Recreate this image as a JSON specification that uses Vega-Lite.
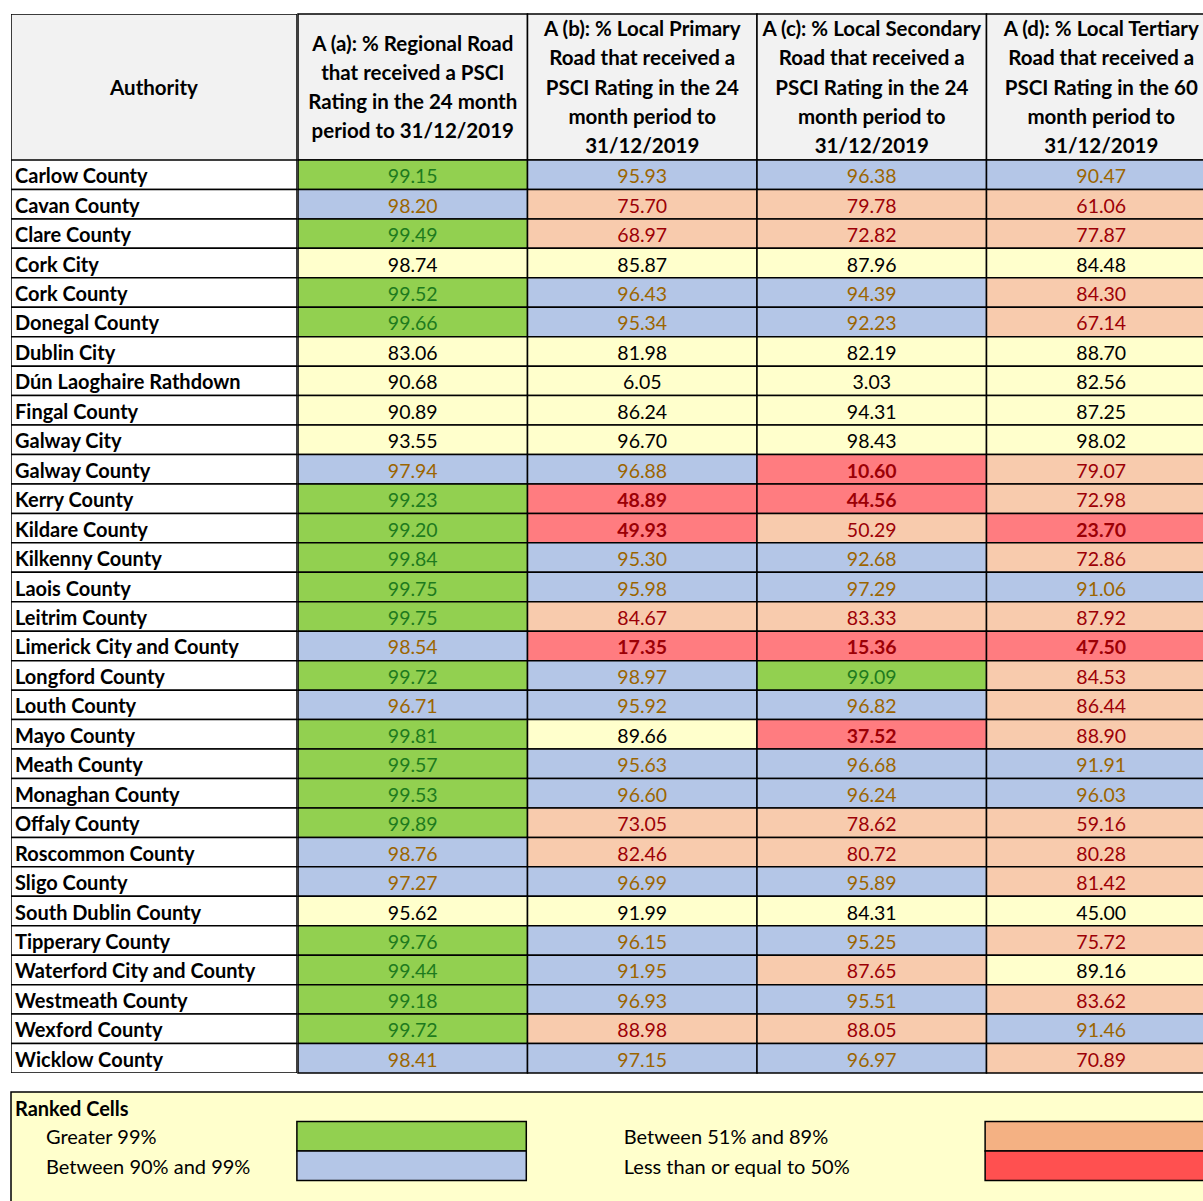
{
  "$schema": "https://vega.github.io/schema/vega-lite/v6.json",
  "padding": {"left": 10, "top": 13, "right": 0, "bottom": 0},
  "background": "white",
  "config": {"view": {"stroke": null}, "font": "Lato"},
  "datasets": {
    "rows": [
      {"Authority": "Carlow County", "a": 99.15, "b": 95.93, "c": 96.38, "d": 90.47, "ranked": true},
      {"Authority": "Cavan County", "a": 98.20, "b": 75.70, "c": 79.78, "d": 61.06, "ranked": true},
      {"Authority": "Clare County", "a": 99.49, "b": 68.97, "c": 72.82, "d": 77.87, "ranked": true},
      {"Authority": "Cork City", "a": 98.74, "b": 85.87, "c": 87.96, "d": 84.48, "ranked": false},
      {"Authority": "Cork County", "a": 99.52, "b": 96.43, "c": 94.39, "d": 84.30, "ranked": true},
      {"Authority": "Donegal County", "a": 99.66, "b": 95.34, "c": 92.23, "d": 67.14, "ranked": true},
      {"Authority": "Dublin City", "a": 83.06, "b": 81.98, "c": 82.19, "d": 88.70, "ranked": false},
      {"Authority": "Dún Laoghaire Rathdown", "a": 90.68, "b": 6.05, "c": 3.03, "d": 82.56, "ranked": false},
      {"Authority": "Fingal County", "a": 90.89, "b": 86.24, "c": 94.31, "d": 87.25, "ranked": false},
      {"Authority": "Galway City", "a": 93.55, "b": 96.70, "c": 98.43, "d": 98.02, "ranked": false},
      {"Authority": "Galway County", "a": 97.94, "b": 96.88, "c": 10.60, "d": 79.07, "ranked": true},
      {"Authority": "Kerry County", "a": 99.23, "b": 48.89, "c": 44.56, "d": 72.98, "ranked": true},
      {"Authority": "Kildare County", "a": 99.20, "b": 49.93, "c": 50.29, "d": 23.70, "ranked": true},
      {"Authority": "Kilkenny County", "a": 99.84, "b": 95.30, "c": 92.68, "d": 72.86, "ranked": true},
      {"Authority": "Laois County", "a": 99.75, "b": 95.98, "c": 97.29, "d": 91.06, "ranked": true},
      {"Authority": "Leitrim County", "a": 99.75, "b": 84.67, "c": 83.33, "d": 87.92, "ranked": true},
      {"Authority": "Limerick City and County", "a": 98.54, "b": 17.35, "c": 15.36, "d": 47.50, "ranked": true},
      {"Authority": "Longford County", "a": 99.72, "b": 98.97, "c": 99.09, "d": 84.53, "ranked": true},
      {"Authority": "Louth County", "a": 96.71, "b": 95.92, "c": 96.82, "d": 86.44, "ranked": true},
      {"Authority": "Mayo County", "a": 99.81, "b": 89.66, "c": 37.52, "d": 88.90, "ranked": true},
      {"Authority": "Meath County", "a": 99.57, "b": 95.63, "c": 96.68, "d": 91.91, "ranked": true},
      {"Authority": "Monaghan County", "a": 99.53, "b": 96.60, "c": 96.24, "d": 96.03, "ranked": true},
      {"Authority": "Offaly County", "a": 99.89, "b": 73.05, "c": 78.62, "d": 59.16, "ranked": true},
      {"Authority": "Roscommon County", "a": 98.76, "b": 82.46, "c": 80.72, "d": 80.28, "ranked": true},
      {"Authority": "Sligo County", "a": 97.27, "b": 96.99, "c": 95.89, "d": 81.42, "ranked": true},
      {"Authority": "South Dublin County", "a": 95.62, "b": 91.99, "c": 84.31, "d": 45.00, "ranked": false},
      {"Authority": "Tipperary County", "a": 99.76, "b": 96.15, "c": 95.25, "d": 75.72, "ranked": true},
      {"Authority": "Waterford City and County", "a": 99.44, "b": 91.95, "c": 87.65, "d": 89.16, "ranked": true},
      {"Authority": "Westmeath County", "a": 99.18, "b": 96.93, "c": 95.51, "d": 83.62, "ranked": true},
      {"Authority": "Wexford County", "a": 99.72, "b": 88.98, "c": 88.05, "d": 91.46, "ranked": true},
      {"Authority": "Wicklow County", "a": 98.41, "b": 97.15, "c": 96.97, "d": 70.89, "ranked": true}
    ]
  },
  "resolve": {"scale": {"fill": "independent", "color": "independent"}},
  "spacing": 17,
  "vconcat": [
    {
      "spacing": 0,
      "resolve": {"scale": {"fill": "independent", "color": "independent"}},
      "hconcat": [
        {
          "bounds": "flush",
          "spacing": 0,
          "vconcat": [
            {
              "width": 286,
              "height": 146,
              "data": {"values": [{"col": "Authority", "title": "Authority"}]},
              "layer": [
                {
                  "mark": {"type": "rect", "fill": "#F2F2F2", "stroke": "black", "strokeWidth": 1.5, "clip": true},
                  "encoding": {"x": {"field": "col", "type": "nominal", "axis": null, "scale": {"paddingInner": 0, "paddingOuter": 0}}}
                },
                {
                  "mark": {"type": "text", "baseline": "middle", "dy": 2, "font": "Lato", "fontSize": 20.5, "fontWeight": "bold", "color": "black"},
                  "encoding": {
                    "x": {"field": "col", "type": "nominal", "axis": null},
                    "text": {"field": "title"}
                  }
                }
              ]
            },
            {
              "width": 286,
              "height": 913,
              "data": {"name": "rows"},
              "layer": [
                {
                  "mark": {"type": "rect", "fill": "white", "stroke": "black", "strokeWidth": 1.5, "clip": true},
                  "encoding": {
                    "x": {"datum": "Authority", "type": "nominal", "axis": null, "scale": {"paddingInner": 0, "paddingOuter": 0}},
                    "y": {"field": "Authority", "type": "nominal", "sort": null, "axis": null, "scale": {"paddingInner": 0, "paddingOuter": 0}}
                  }
                },
                {
                  "mark": {"type": "text", "align": "left", "baseline": "middle", "dx": 4, "dy": 2.5, "font": "Lato", "fontSize": 20, "fontWeight": "bold", "color": "black"},
                  "encoding": {
                    "x": {"datum": "Authority", "type": "nominal", "axis": null, "bandPosition": 0},
                    "y": {"field": "Authority", "type": "nominal", "sort": null, "axis": null},
                    "text": {"field": "Authority"}
                  }
                }
              ]
            }
          ]
        },
        {
          "bounds": "flush",
          "spacing": 0,
          "resolve": {"scale": {"fill": "independent", "color": "independent"}},
          "vconcat": [
            {
              "width": 918,
              "height": 146,
              "data": {"values": [
                {"col": "a", "title": "A (a): % Regional Road\nthat received a PSCI\nRating in the 24 month\nperiod to 31/12/2019", "lines": 4},
                {"col": "b", "title": "A (b): % Local Primary\nRoad that received a\nPSCI Rating in the 24\nmonth period to\n31/12/2019", "lines": 5},
                {"col": "c", "title": "A (c): % Local Secondary\nRoad that received a\nPSCI Rating in the 24\nmonth period to\n31/12/2019", "lines": 5},
                {"col": "d", "title": "A (d): % Local Tertiary\nRoad that received a\nPSCI Rating in the 60\nmonth period to\n31/12/2019", "lines": 5}
              ]},
              "layer": [
                {
                  "mark": {"type": "rect", "fill": "#F2F2F2", "stroke": "black", "strokeWidth": 1.5},
                  "encoding": {"x": {"field": "col", "type": "nominal", "axis": null, "scale": {"paddingInner": 0, "paddingOuter": 0}}}
                },
                {
                  "transform": [{"filter": "datum.lines == 4"}],
                  "mark": {"type": "text", "baseline": "middle", "dy": -42.5, "lineBreak": "\n", "lineHeight": 29.3, "font": "Lato", "fontSize": 20.5, "fontWeight": "bold", "color": "black"},
                  "encoding": {
                    "x": {"field": "col", "type": "nominal", "axis": null},
                    "text": {"field": "title"}
                  }
                },
                {
                  "transform": [{"filter": "datum.lines == 5"}],
                  "mark": {"type": "text", "baseline": "middle", "dy": -57, "lineBreak": "\n", "lineHeight": 29.3, "font": "Lato", "fontSize": 20.5, "fontWeight": "bold", "color": "black"},
                  "encoding": {
                    "x": {"field": "col", "type": "nominal", "axis": null},
                    "text": {"field": "title"}
                  }
                }
              ]
            },
            {
              "width": 918,
              "height": 913,
              "data": {"name": "rows"},
              "transform": [{"fold": ["a", "b", "c", "d"], "as": ["col", "value"]}],
              "layer": [
                {
                  "mark": {"type": "rect", "stroke": "black", "strokeWidth": 1.5},
                  "encoding": {
                    "x": {"field": "col", "type": "nominal", "axis": null, "scale": {"paddingInner": 0, "paddingOuter": 0}},
                    "y": {"field": "Authority", "type": "nominal", "sort": null, "axis": null, "scale": {"paddingInner": 0, "paddingOuter": 0}},
                    "fill": {
                      "condition": {"test": "!datum.ranked", "value": "#FFFFCC"},
                      "field": "value", "type": "quantitative",
                      "scale": {"type": "threshold", "domain": [50, 89, 90, 99], "range": ["#FF7C80", "#F8CBAD", "#FFFFCC", "#B4C6E7", "#92D050"]},
                      "legend": null
                    }
                  }
                },
                {
                  "transform": [{"filter": "!(datum.ranked && datum.value < 50)"}],
                  "mark": {"type": "text", "baseline": "middle", "dy": 2.5, "font": "Lato", "fontSize": 19.5},
                  "encoding": {
                    "x": {"field": "col", "type": "nominal", "axis": null},
                    "y": {"field": "Authority", "type": "nominal", "sort": null, "axis": null},
                    "text": {"field": "value", "type": "quantitative", "format": ".2f"},
                    "color": {
                      "condition": {"test": "!datum.ranked", "value": "black"},
                      "field": "value", "type": "quantitative",
                      "scale": {"type": "threshold", "domain": [50, 89, 90, 99], "range": ["#9C0006", "#9C0006", "black", "#9C6500", "#1E7B1E"]},
                      "legend": null
                    }
                  }
                },
                {
                  "transform": [{"filter": "datum.ranked && datum.value < 50"}],
                  "mark": {"type": "text", "baseline": "middle", "dy": 2.5, "font": "Lato", "fontSize": 19.5, "fontWeight": "bold", "color": "#9C0006"},
                  "encoding": {
                    "x": {"field": "col", "type": "nominal", "axis": null},
                    "y": {"field": "Authority", "type": "nominal", "sort": null, "axis": null},
                    "text": {"field": "value", "type": "quantitative", "format": ".2f"}
                  }
                }
              ]
            }
          ]
        }
      ]
    },
    {
      "width": 1260,
      "height": 118,
      "view": {"fill": "#FFFFCC", "stroke": "black", "strokeWidth": 1.5},
      "data": {"values": [
        {"item": "Ranked Cells", "row": "title", "side": "title"},
        {"item": "Greater 99%", "row": "r1", "side": "left"},
        {"item": "Between 90% and 99%", "row": "r2", "side": "left"},
        {"item": "Between 51% and 89%", "row": "r1", "side": "right"},
        {"item": "Less than or equal to 50%", "row": "r2", "side": "right"}
      ]},
      "encoding": {
        "y": {"field": "row", "type": "nominal", "axis": null, "scale": {"domain": ["title", "r1", "r2"], "paddingInner": 0, "paddingOuter": 0.5, "align": 0}}
      },
      "layer": [
        {
          "transform": [{"filter": "datum.side == 'left'"}],
          "mark": {"type": "rect", "stroke": "black", "strokeWidth": 1.5},
          "encoding": {
            "x": {"datum": "a", "type": "nominal", "axis": null, "scale": {"domain": ["auth", "a", "b", "c", "d"], "paddingInner": 0, "paddingOuter": 0.2462}},
            "fill": {"field": "item", "type": "nominal", "legend": null, "scale": {"domain": ["Greater 99%", "Between 90% and 99%", "Between 51% and 89%", "Less than or equal to 50%"], "range": ["#92D050", "#B4C6E7", "#F4B183", "#FF5050"]}}
          }
        },
        {
          "transform": [{"filter": "datum.side == 'right'"}],
          "mark": {"type": "rect", "stroke": "black", "strokeWidth": 1.5},
          "encoding": {
            "x": {"datum": "d", "type": "nominal", "axis": null},
            "fill": {"field": "item", "type": "nominal", "legend": null}
          }
        },
        {
          "transform": [{"filter": "datum.side == 'title'"}],
          "mark": {"type": "text", "align": "left", "baseline": "middle", "dx": -52.5, "dy": 3, "font": "Lato", "fontSize": 20, "fontWeight": "bold", "color": "black"},
          "encoding": {
            "x": {"datum": "auth", "type": "nominal", "axis": null, "bandPosition": 0},
            "text": {"field": "item"}
          }
        },
        {
          "transform": [{"filter": "datum.side == 'left'"}],
          "mark": {"type": "text", "align": "left", "baseline": "middle", "dx": -21.5, "dy": 2, "font": "Lato", "fontSize": 20, "color": "black"},
          "encoding": {
            "x": {"datum": "auth", "type": "nominal", "axis": null, "bandPosition": 0},
            "text": {"field": "item"}
          }
        },
        {
          "transform": [{"filter": "datum.side == 'right'"}],
          "mark": {"type": "text", "align": "left", "baseline": "middle", "dx": 97.5, "dy": 2, "font": "Lato", "fontSize": 20, "color": "black"},
          "encoding": {
            "x": {"datum": "b", "type": "nominal", "axis": null, "bandPosition": 0},
            "text": {"field": "item"}
          }
        }
      ]
    }
  ]
}
